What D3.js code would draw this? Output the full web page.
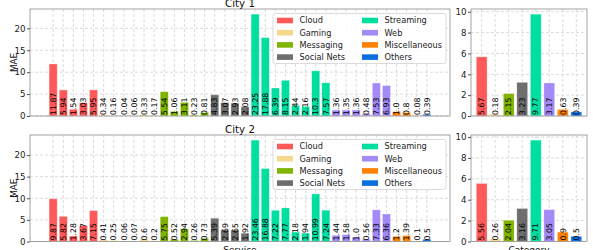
<!DOCTYPE html>
<html><head><meta charset="utf-8">
<script src="https://cdn.jsdelivr.net/npm/d3@7"></script>
<style>body{margin:0;background:#fff}svg{display:block;font-family:"DejaVu Sans",sans-serif}</style>
</head><body><svg id="c" width="593" height="250"></svg>
<script>
const categories = ["Cloud","Gaming","Messaging","Social Nets","Streaming","Web","Miscellaneous","Others"];
const categoryColors = ["#ff5a5a","#f6d88c","#80b400","#6e6e6e","#00dea0","#a48af6","#ff8205","#0a6fdf"];
const serviceCategory = [0,0,0,0,0, 1,1,1,1,1,1, 2,2,2,2,2, 3,3,3,3, 4,4,4,4,4,4,4,4, 5,5,5,5,5,5, 6,6,6, 7];
const city1Service = [11.87,5.94,1.54,3.03,5.95, 0.34,0.16,0.04,0.06,0.33,0.17, 5.54,1.06,3.11,0.23,0.81, 4.83,3.07,2.93,2.08, 23.25,17.88,6.39,8.15,2.44,2.16,10.3,7.57, 1.36,1.35,1.36,0.48,7.53,6.93, 1.0,0.8,0.08, 0.39];
const city1Category = [5.67,0.18,2.15,3.23,9.77,3.17,0.63,0.39];
const city2Service = [9.87,5.82,1.28,3.67,7.15, 0.41,0.25,0.06,0.07,0.6,0.2, 5.75,0.52,2.94,0.26,0.73, 5.39,2.69,2.65,1.92, 23.46,16.88,7.22,7.77,2.18,1.94,10.99,7.24, 1.44,1.58,1.0,0.56,7.33,6.36, 1.2,1.39,0.1, 0.5];
const city2Category = [5.56,0.26,2.04,3.16,9.71,3.05,0.9,0.5];
const cityTitles = ["City 1","City 2"];
const serviceTicks = [0,5,10,15,20];
const categoryTicks = [0,2,4,6,8,10];

const svg = d3.select("#c");
const fmt = v => Number.isInteger(v) ? v.toFixed(1) : String(v);

function panel(x0, x1, y0, y1, values, cats, ticks, legend) {
  const n = values.length;
  const m = 0.05 * (n - 1 + 0.8);
  const x = d3.scaleLinear().domain([-0.4 - m, n - 1 + 0.4 + m]).range([x0, x1]);
  const y = d3.scaleLinear().domain([0, d3.max(values) * 1.05]).range([y1, y0]);
  const g = svg.append("g");
  // grid
  g.selectAll(".gx").data(d3.range(n)).join("line")
    .attr("x1", d => x(d)).attr("x2", d => x(d)).attr("y1", y0).attr("y2", y1)
    .attr("stroke", "#d2d2d2").attr("stroke-width", 0.8).attr("stroke-dasharray", "3,2");
  g.selectAll(".gy").data(ticks).join("line")
    .attr("x1", x0).attr("x2", x1).attr("y1", d => y(d)).attr("y2", d => y(d))
    .attr("stroke", "#d2d2d2").attr("stroke-width", 0.8).attr("stroke-dasharray", "3,2");
  // bars
  const bw = x(0.8) - x(0);
  g.selectAll(".bar").data(values).join("rect")
    .attr("x", (d, i) => x(i - 0.4)).attr("width", bw)
    .attr("y", d => y(d)).attr("height", d => y(0) - y(d))
    .attr("fill", (d, i) => categoryColors[cats[i]])
    .attr("stroke", "#fff").attr("stroke-opacity", 0.5).attr("stroke-width", 0.6);
  // labels
  g.selectAll(".lbl").data(values).join("text")
    .attr("transform", (d, i) => `translate(${x(i)},${y(0) - 1}) rotate(-90)`)
    .attr("dy", "0.35em").attr("text-anchor", "start")
    .attr("font-size", 7.8).attr("fill", "#000").text(d => fmt(d));
  // spines
  g.append("rect").attr("x", x0).attr("y", y0).attr("width", x1 - x0).attr("height", y1 - y0)
    .attr("fill", "none").attr("stroke", "#999").attr("stroke-width", 0.9);
  // y axis
  const ax = g.append("g").attr("transform", `translate(${x0},0)`)
    .call(d3.axisLeft(y).tickValues(ticks).tickFormat(d3.format("d")).tickSize(3).tickPadding(1.5));
  ax.select(".domain").remove();
  ax.selectAll("text").attr("font-size", 8.7).attr("fill", "#222").attr("font-family", "DejaVu Sans");
  ax.selectAll("line").attr("stroke", "#555");
  if (legend) {
    const bx = 273, by = y0 + 4.5, bwid = 173, bh = 50;
    const lg = svg.append("g");
    lg.append("rect").attr("x", bx).attr("y", by).attr("width", bwid).attr("height", bh)
      .attr("rx", 2.5).attr("fill", "#fff").attr("fill-opacity", 0.85)
      .attr("stroke", "#d0d0d0").attr("stroke-width", 0.8);
    const items = lg.selectAll(".it").data(categories).join("g")
      .attr("transform", (d, i) => `translate(${i < 4 ? 277 : 362},${by + 7 + 12.2 * (i % 4)})`);
    items.append("rect").attr("x", 0).attr("y", -2.8).attr("width", 16).attr("height", 5.6)
      .attr("fill", (d, i) => categoryColors[i]);
    items.append("text").attr("x", 22.5).attr("dy", "0.35em").attr("font-size", 8.2)
      .attr("fill", "#222").text(d => d);
  }
}

const rows = [[9, 116, city1Service, city1Category], [135, 241.5, city2Service, city2Category]];
rows.forEach((r, k) => {
  panel(30, 450, r[0], r[1], r[2], serviceCategory, serviceTicks, true);
  panel(471, 587, r[0], r[1], r[3], d3.range(categories.length), categoryTicks, false);
  svg.append("text").attr("x", 240).attr("y", r[0] - 2.5).attr("text-anchor", "middle")
    .attr("font-size", 10.3).attr("fill", "#111").text(cityTitles[k]);
  svg.append("text").attr("transform", `translate(16.5,${(r[0] + r[1]) / 2}) rotate(-90)`)
    .attr("text-anchor", "middle").attr("font-size", 8.8).attr("fill", "#111").text("MAE");
});
svg.append("text").attr("x", 240).attr("y", 253).attr("text-anchor", "middle")
  .attr("font-size", 9).attr("fill", "#111").text("Service");
svg.append("text").attr("x", 529).attr("y", 253).attr("text-anchor", "middle")
  .attr("font-size", 9).attr("fill", "#111").text("Category");
</script></body></html>
